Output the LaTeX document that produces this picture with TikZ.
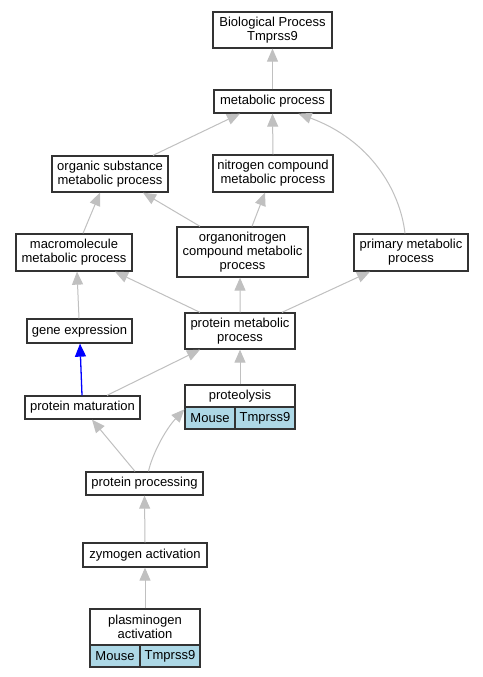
\documentclass[tikz,border=0pt]{standalone}
\usepackage{fontspec}
\setmainfont{Liberation Sans}
\usetikzlibrary{arrows.meta}
\definecolor{edgegray}{HTML}{C0C0C0}
\definecolor{cellblue}{HTML}{ADD8E6}
\definecolor{boxline}{HTML}{333333}
\begin{document}
\begin{tikzpicture}[x=1bp,y=-1bp,
  box/.style={draw=boxline,line width=1.3bp,fill=white,inner sep=0pt,align=center,
    font=\fontsize{13bp}{14bp}\selectfont},
  cell/.style={box,fill=cellblue},
  edge/.style={draw=edgegray,line width=1bp,-{Triangle[length=13bp,width=11bp]},color=edgegray},
  blueedge/.style={draw=blue,line width=1.3bp,-{Triangle[length=13bp,width=11bp]},color=blue}]
\useasboundingbox (0,0) rectangle (483,677);
\fill[white] (0,0) rectangle (483,677);

\node[box,minimum width=119bp,minimum height=36bp] (bp) at (272.5,30) {Biological Process\\Tmprss9};
\node[box,minimum width=117bp,minimum height=23bp] (meta) at (272.5,101.5) {metabolic process};
\node[box,minimum width=116bp,minimum height=36bp] (organic) at (110,174) {organic substance\\metabolic process};
\node[box,minimum width=120bp,minimum height=37bp] (nitrogen) at (273,173.5) {nitrogen compound\\metabolic process};
\node[box,minimum width=131bp,minimum height=50bp] (organo) at (242.5,252) {organonitrogen\\compound metabolic\\process};
\node[box,minimum width=116bp,minimum height=37bp] (macro) at (74,252.5) {macromolecule\\metabolic process};
\node[box,minimum width=114bp,minimum height=37bp] (primary) at (411,252.5) {primary metabolic\\process};
\node[box,minimum width=105bp,minimum height=24bp] (gene) at (79.5,331) {gene expression};
\node[box,minimum width=110bp,minimum height=36bp] (pmp) at (240,331) {protein metabolic\\process};
\node[box,minimum width=115bp,minimum height=23bp] (pmat) at (82.5,407.5) {protein maturation};
\node[box,minimum width=110bp,minimum height=22bp] (prot) at (240,396) {proteolysis};
\node[cell,minimum width=50bp,minimum height=22bp] (protm) at (210,418) {Mouse};
\node[cell,minimum width=60bp,minimum height=22bp] (prott) at (265,418) {Tmprss9};
\node[box,minimum width=117bp,minimum height=23bp] (pproc) at (144.5,483.5) {protein processing};
\node[box,minimum width=124bp,minimum height=24bp] (zymo) at (145,555) {zymogen activation};
\node[box,minimum width=110bp,minimum height=36bp] (plasm) at (145,627) {plasminogen\\activation};
\node[cell,minimum width=50bp,minimum height=22bp] (plasmm) at (115,656) {Mouse};
\node[cell,minimum width=60bp,minimum height=22bp] (plasmt) at (170,656) {Tmprss9};

\draw[edge] (meta.north) -- (bp.south);
\draw[edge] ([xshift=43bp]organic.north) -- ([xshift=-32.5bp]meta.south);
\draw[edge] (nitrogen.north) -- (meta.south);
\draw[edge] ([xshift=-6bp]primary.north) .. controls (400,190) and (370,140) .. ([xshift=26bp]meta.south);
\draw[edge] ([xshift=9bp]macro.north) -- ([xshift=-10bp]organic.south);
\draw[edge] ([xshift=-42.5bp]organo.north) -- ([xshift=33bp]organic.south);
\draw[edge] ([xshift=9.5bp]organo.north) -- ([xshift=-8bp]nitrogen.south);
\draw[edge] ([xshift=-0.5bp]gene.north) -- ([xshift=3bp]macro.south);
\draw[edge] ([xshift=-40bp]pmp.north) -- ([xshift=41bp]macro.south);
\draw[edge] (pmp.north) -- ([xshift=-2.5bp]organo.south);
\draw[edge] ([xshift=42bp]pmp.north) -- ([xshift=-41bp]primary.south);
\draw[blueedge] ([xshift=-0.5bp]pmat.north) -- ([xshift=0.5bp]gene.south);
\draw[edge] ([xshift=24.5bp]pmat.north) -- ([xshift=-40bp]pmp.south);
\draw[edge] (prot.north) -- (pmp.south);
\draw[edge] ([xshift=-9.5bp]pproc.north) -- ([xshift=9.5bp]pmat.south);
\draw[edge] ([xshift=4bp]pproc.north) .. controls (152,455) and (165,430) .. ([yshift=-3bp]protm.north west);
\draw[edge] (zymo.north) -- (pproc.south);
\draw[edge] (plasm.north) -- (zymo.south);
\end{tikzpicture}
\end{document}
